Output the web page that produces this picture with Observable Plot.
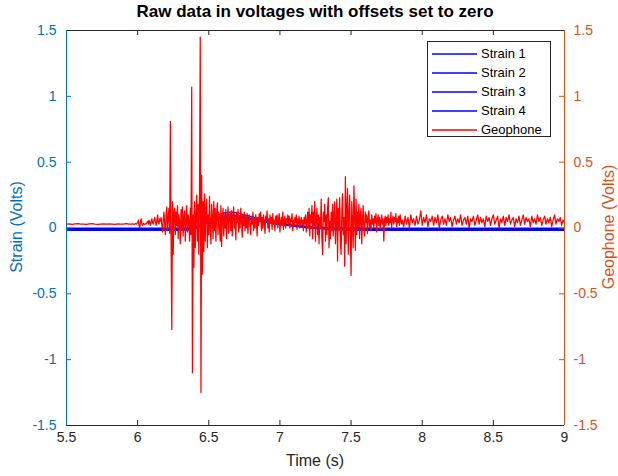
<!DOCTYPE html>
<html>
<head>
<meta charset="utf-8">
<script src="https://cdn.jsdelivr.net/npm/d3@7"></script>
<script src="https://cdn.jsdelivr.net/npm/@observablehq/plot@0.6"></script>
<style>
  html, body { margin: 0; padding: 0; background: #fff; }
  #wrap { position: relative; width: 618px; height: 476px; font-family: "Liberation Sans", Arial, Helvetica, sans-serif; }
  .ov { position: absolute; white-space: nowrap; }
  #title { left: 0; width: 630px; top: 2px; text-align: center; font-weight: bold; font-size: 17px; color: #000; }
  #xlabel { left: 66px; width: 498px; top: 452px; text-align: center; font-size: 16px; color: #262626; }
  #ylabelL { left: 17px; top: 227px; font-size: 16px; color: #0072BD; transform: translate(-50%, -50%) rotate(-90deg); }
  #ylabelR { left: 609px; top: 227px; font-size: 16px; color: #D95319; transform: translate(-50%, -50%) rotate(-90deg); }
  #legend { left: 427px; top: 41px; width: 124px; height: 96px; border: 1px solid #262626; background: #fff; box-sizing: border-box; }
  .lrow { position: absolute; left: 4px; height: 19px; display: flex; align-items: center; font-size: 13px; color: #000; }
  .lrow svg { display: block; margin-right: 4px; }
</style>
</head>
<body>
<div id="wrap">
  <div id="chart"></div>
  <div class="ov" id="title">Raw data in voltages with offsets set to zero</div>
  <div class="ov" id="xlabel">Time (s)</div>
  <div class="ov" id="ylabelL">Strain (Volts)</div>
  <div class="ov" id="ylabelR">Geophone (Volts)</div>
  <div class="ov" id="legend"></div>
</div>
<script>
// ---------- data ----------
const xTicks = [5.5, 6, 6.5, 7, 7.5, 8, 8.5, 9];
const yTicks = [-1.5, -1, -0.5, 0, 0.5, 1, 1.5];
const legendNames = ["Strain 1", "Strain 2", "Strain 3", "Strain 4", "Geophone"];
const legendColors = ["#0000FF", "#0000FF", "#0000FF", "#0000FF", "#FF0000"];

// Geophone: three sampled segments (start time, step, values)
const geoStarts = [5.5, 5.96, 7.86];
const geoSteps = [0.02, 0.005, 0.01];
const geoA = [0.03,0.032,0.028,0.031,0.033,0.029,0.03,0.027,0.031,0.034,0.03,0.028,0.03,0.032,0.029,0.031,0.03,0.028,0.032,0.03,0.029,0.033,0.03];
const geoB = [
  0.03,0.032,0.03,0.028,0.03,0.033,0.03,0.035,0.04,0.06,0.02,0.0,0.05,0.07,0.03,0.02,0.035,0.03,0.028,0.032,
  0.03,0.04,0.05,0.03,0.06,0.04,0.02,0.05,0.07,0.04,0.03,0.06,0.08,0.05,0.02,0.06,0.1,0.04,0.03,0.07,
  0.05,0.08,0.02,-0.03,0.06,0.12,0.03,-0.05,0.1,0.16,-0.02,0.08,0.15,-0.04,0.81,-0.1,-0.77,0.2,-0.2,0.12,
  0.15,-0.05,0.12,0.02,0.17,-0.08,0.1,0.05,-0.12,0.14,0.0,0.16,-0.06,0.08,0.13,-0.1,0.06,0.17,-0.03,0.1,
  0.05,-0.1,0.15,-0.05,1.07,-1.1,0.1,-0.3,0.2,-0.15,0.1,0.25,-0.1,0.18,-0.2,0.3,1.45,-1.25,0.4,-0.35,
  0.2,-0.18,0.26,-0.1,0.15,0.22,-0.15,0.1,-0.05,0.24,0.0,-0.12,0.18,0.08,-0.08,0.2,-0.02,0.15,-0.1,0.12,
  0.19,-0.05,0.12,0.02,-0.1,0.17,-0.14,0.08,0.15,-0.06,0.1,0.0,0.14,-0.08,0.06,0.16,-0.04,0.09,0.12,-0.02,
  0.13,-0.06,0.1,0.16,0.0,0.08,-0.09,0.12,0.04,0.14,-0.03,0.09,0.0,0.15,0.05,-0.07,0.1,0.02,0.12,-0.02,
  0.08,0.0,0.11,-0.04,0.06,0.1,0.02,-0.05,0.09,0.03,0.12,-0.02,0.07,0.0,0.1,0.04,-0.06,0.08,0.02,0.11,
  0.05,0.12,-0.02,0.08,0.0,0.1,0.03,-0.04,0.09,0.06,0.13,0.0,0.07,-0.03,0.1,0.04,0.08,-0.01,0.11,0.03,
  0.06,-0.02,0.09,0.03,0.1,0.0,0.07,0.11,-0.03,0.05,0.08,0.02,0.12,-0.01,0.06,0.09,0.0,0.07,0.04,0.1,
  0.03,0.09,0.0,0.07,0.05,0.11,-0.02,0.06,0.02,0.08,0.04,0.1,-0.01,0.07,0.03,0.09,0.0,0.05,0.08,0.02,
  0.06,-0.02,0.08,0.03,0.1,-0.03,0.05,0.12,0.0,0.15,-0.06,0.1,0.04,0.17,-0.08,0.12,0.02,0.2,-0.1,0.08,
  0.15,-0.05,0.1,-0.12,0.08,0.0,0.22,-0.08,-0.2,0.12,0.05,0.18,-0.1,0.1,-0.05,0.15,0.23,-0.15,0.05,-0.08,
  0.12,-0.02,0.18,-0.06,0.1,0.2,-0.12,0.05,0.22,-0.25,0.15,0.0,0.23,-0.1,-0.2,0.12,0.26,-0.05,0.08,-0.29,
  0.39,-0.12,0.15,0.3,-0.2,0.1,0.25,-0.05,-0.36,0.2,0.05,-0.15,0.32,0.1,-0.17,0.22,-0.05,0.12,0.0,0.18,
  -0.08,0.1,0.15,-0.12,0.05,0.17,0.0,-0.06,0.12,0.04,0.1,-0.04,0.08,0.13,0.0,0.06,-0.02,0.1,0.03,0.07,
  0.0,0.09,0.04,0.11,-0.03,0.06,0.1,0.02,0.08,-0.01,0.05,0.1,0.03,0.07,-0.1,0.06,0.09,0.02,0.08,0.04,
  0.1,0.02,0.07,0.04,0.12,0.0,0.06,0.09,0.03,0.08,0.05,0.11,0.01,0.07,0.04,0.09,0.02,0.1,0.05,0.03
];
const geoC = [
  0.06,0.01,0.09,0.03,0.08,0.0,0.1,0.04,0.07,0.02,
  0.09,0.03,0.06,0.13,0.02,0.08,0.04,0.1,0.01,0.07,
  0.05,0.09,0.02,0.08,0.04,0.1,0.0,0.06,0.09,0.03,
  0.07,0.02,0.1,0.05,0.08,0.01,0.06,0.09,0.03,0.07,
  0.04,0.1,0.02,0.06,0.08,0.03,0.09,0.0,0.07,0.05,
  0.09,0.02,0.06,0.1,0.03,0.08,0.04,0.07,0.01,0.09,
  0.05,0.08,0.02,0.07,0.1,0.03,0.06,0.09,0.0,0.07,
  0.04,0.09,0.02,0.08,0.05,0.1,0.03,0.06,0.08,0.01,
  0.07,0.04,0.09,0.02,0.06,0.1,0.03,0.08,0.05,0.07,
  0.01,0.09,0.04,0.07,0.03,0.1,0.05,0.08,0.02,0.06,
  0.09,0.03,0.07,0.04,0.08,0.01,0.06,0.1,0.03,0.07,
  0.05,0.08,0.02,0.06,0.04
];

// Strain gauges: sampled every 0.05 s from 5.5 s to 9.0 s
const strainStart = 5.5, strainStep = 0.05;
const strain1 = [-0.002,-0.002,-0.002,-0.002,-0.002,-0.002,-0.002,-0.002,-0.002,-0.002,-0.002,-0.002,-0.002,-0.002,-0.002,-0.002,-0.002,
  0.0,0.008,0.035,0.068,0.097,0.112,0.12,0.115,0.1,0.086,0.072,0.058,0.048,0.038,0.03,0.023,0.017,0.011,0.007,0.004,0.002,0.0,-0.001,-0.001,
  -0.002,-0.002,-0.002,-0.002,-0.002,-0.002,-0.002,-0.002,-0.002,-0.002,-0.002,-0.002,-0.002,-0.002,-0.002,-0.002,-0.002,-0.002,-0.002,-0.002,-0.002,-0.002,-0.002,-0.002,-0.002,-0.002,-0.002,-0.002,-0.002,-0.002];
const strain2 = [-0.008,-0.008,-0.008,-0.008,-0.008,-0.008,-0.008,-0.008,-0.008,-0.008,-0.008,-0.008,-0.008,-0.008,-0.008,-0.008,-0.008,
  -0.006,0.0,0.022,0.047,0.067,0.079,0.083,0.081,0.073,0.063,0.053,0.044,0.036,0.029,0.023,0.017,0.012,0.007,0.003,0.0,-0.003,-0.005,-0.006,-0.007,
  -0.008,-0.008,-0.008,-0.008,-0.008,-0.008,-0.008,-0.008,-0.008,-0.008,-0.008,-0.008,-0.008,-0.008,-0.008,-0.008,-0.008,-0.008,-0.008,-0.008,-0.008,-0.008,-0.008,-0.008,-0.008,-0.008,-0.008,-0.008,-0.008,-0.008];
const strain3 = [-0.013,-0.013,-0.013,-0.013,-0.013,-0.013,-0.013,-0.013,-0.013,-0.013,-0.013,-0.013,-0.013,-0.013,-0.013,-0.013,-0.013,
  -0.011,-0.004,0.023,0.056,0.081,0.096,0.1,0.097,0.087,0.074,0.062,0.05,0.04,0.032,0.025,0.018,0.012,0.006,0.001,-0.003,-0.006,-0.009,-0.011,-0.012,
  -0.013,-0.013,-0.013,-0.013,-0.013,-0.013,-0.013,-0.013,-0.013,-0.013,-0.013,-0.013,-0.013,-0.013,-0.013,-0.013,-0.013,-0.013,-0.013,-0.013,-0.013,-0.013,-0.013,-0.013,-0.013,-0.013,-0.013,-0.013,-0.013,-0.013];
const strain4 = [-0.018,-0.018,-0.018,-0.018,-0.018,-0.018,-0.018,-0.018,-0.018,-0.018,-0.018,-0.018,-0.018,-0.018,-0.018,-0.018,-0.018,
  -0.016,-0.008,0.016,0.046,0.07,0.085,0.09,0.088,0.078,0.066,0.055,0.045,0.036,0.028,0.02,0.013,0.007,0.002,-0.003,-0.007,-0.011,-0.014,-0.016,-0.017,
  -0.018,-0.018,-0.018,-0.018,-0.018,-0.018,-0.018,-0.018,-0.018,-0.018,-0.018,-0.018,-0.018,-0.018,-0.018,-0.018,-0.018,-0.018,-0.018,-0.018,-0.018,-0.018,-0.018,-0.018,-0.018,-0.018,-0.018,-0.018,-0.018,-0.018];

// ---------- build tables ----------
const geo = [];
[geoA, geoB, geoC].forEach((vals, s) => vals.forEach((v, i) => geo.push({t: geoStarts[s] + i * geoSteps[s], v})));
const strains = [];
[strain1, strain2, strain3, strain4].forEach((vals, s) => vals.forEach((v, i) => strains.push({series: legendNames[s], t: strainStart + i * strainStep, v})));

const W = 618, H = 476, mT = 30, mB = 51, mL = 66, mR = 54;
const innerW = W - mL - mR, innerH = H - mT - mB, tick = 5;
const BLUE = "#0072BD", ORANGE = "#D95319", DARK = "#262626";
const fmt = d => String(d);

const chart = Plot.plot({
  width: W, height: H,
  marginTop: mT, marginBottom: mB, marginLeft: mL, marginRight: mR,
  style: {fontFamily: '"Liberation Sans", Arial, Helvetica, sans-serif', fontSize: "14px", background: "#fff"},
  x: {domain: [5.5, 9]},
  y: {domain: [-1.5, 1.5]},
  marks: [
    Plot.line(strains, {x: "t", y: "v", z: "series", stroke: "#0000FF", strokeWidth: 1.3}),
    Plot.line(geo, {x: "t", y: "v", stroke: "#FF0000", strokeWidth: 1.25}),
    // inward ticks
    Plot.tickX(xTicks, {x: d => d, insetTop: innerH - tick, stroke: DARK}),
    Plot.tickX(xTicks, {x: d => d, insetBottom: innerH - tick, stroke: DARK}),
    Plot.tickY(yTicks, {y: d => d, insetRight: innerW - tick, stroke: BLUE}),
    Plot.tickY(yTicks, {y: d => d, insetLeft: innerW - tick, stroke: ORANGE}),
    // box
    Plot.ruleY([1.5], {stroke: DARK}),
    Plot.ruleY([-1.5], {stroke: DARK}),
    Plot.ruleX([5.5], {stroke: BLUE}),
    Plot.ruleX([9], {stroke: ORANGE}),
    // tick labels
    Plot.axisX({ticks: xTicks, tickSize: 0, tickPadding: 7, tickFormat: fmt, label: null, fill: DARK}),
    Plot.axisY({anchor: "left", ticks: yTicks, tickSize: 0, tickPadding: 10, tickFormat: fmt, label: null, fill: BLUE}),
    Plot.axisY({anchor: "right", ticks: yTicks, tickSize: 0, tickPadding: 9, tickFormat: fmt, label: null, fill: ORANGE})
  ]
});
document.getElementById("chart").appendChild(chart);

// legend
const leg = document.getElementById("legend");
legendNames.forEach((name, i) => {
  const row = document.createElement("div");
  row.className = "lrow";
  row.style.top = (2 + i * 19) + "px";
  row.innerHTML = `<svg width="45" height="4"><line x1="0" x2="45" y1="2" y2="2" stroke="${legendColors[i]}" stroke-width="1.3"/></svg><span>${name}</span>`;
  leg.appendChild(row);
});
</script>
</body>
</html>
